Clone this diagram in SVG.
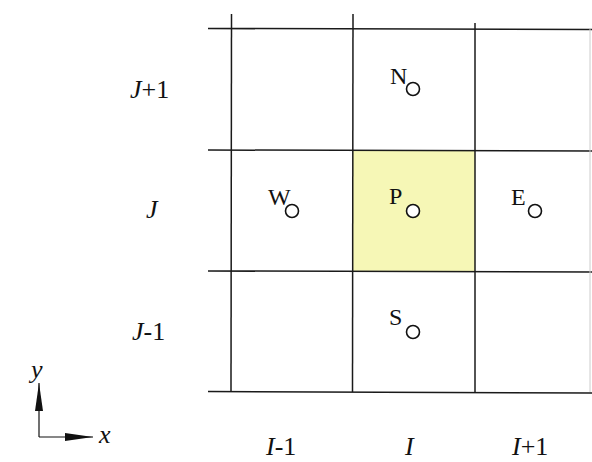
<svg xmlns="http://www.w3.org/2000/svg" width="592" height="462" viewBox="0 0 592 462">
<style>
.g{stroke:#1a1a1a;stroke-width:1.5;fill:none}
.t{font-family:"Liberation Serif",serif;font-size:24px;fill:#111}
.l{font-family:"Liberation Serif",serif;font-size:26px;fill:#111}
.i{font-style:italic}
.c{fill:#fff;stroke:#111;stroke-width:1.6}
</style>
<defs>
<marker id="ah" viewBox="0 0 28 10" refX="28" refY="5" markerWidth="28" markerHeight="10" markerUnits="userSpaceOnUse" orient="auto">
<path d="M0,1 L28,5 L0,9 Z" fill="#111"/>
</marker>
</defs>
<rect width="592" height="462" fill="#fff"/>
<g id="cellP"><rect x="353" y="150" width="122" height="121" fill="#f6f7b6"/></g>
<g id="grid">
<line class="g" x1="208" y1="28.5" x2="592" y2="29.5"/>
<line class="g" x1="208" y1="150" x2="592" y2="151"/>
<line class="g" x1="208" y1="271" x2="592" y2="272"/>
<line class="g" x1="208" y1="391.5" x2="592" y2="393"/>
<line class="g" x1="231.5" y1="14" x2="231" y2="392"/>
<line class="g" x1="353" y1="14" x2="352.5" y2="392"/>
<line class="g" x1="475" y1="23" x2="475" y2="393"/>
<line x1="590" y1="29" x2="590" y2="392" stroke="#ccc" stroke-width="1"/>
</g>
<g id="N"><text class="t" x="390" y="84">N</text><circle class="c" cx="413" cy="89" r="6.5"/></g>
<g id="W"><text class="t" x="268" y="205">W</text><circle class="c" cx="292" cy="211" r="6.5"/></g>
<g id="P"><text class="t" x="389" y="204">P</text><circle class="c" cx="413" cy="211" r="6.5"/></g>
<g id="E"><text class="t" x="511" y="205">E</text><circle class="c" cx="535" cy="211" r="6.5"/></g>
<g id="S"><text class="t" x="389" y="325">S</text><circle class="c" cx="413" cy="332" r="6.5"/></g>
<g id="rowlabels">
<text class="l" x="130" y="98"><tspan class="i">J</tspan>+1</text>
<text class="l i" x="146" y="218">J</text>
<text class="l" x="132" y="340"><tspan class="i">J</tspan>-1</text>
</g>
<g id="collabels">
<text class="l" x="266" y="455"><tspan class="i">I</tspan>-1</text>
<text class="l i" x="405" y="455">I</text>
<text class="l" x="512" y="455"><tspan class="i">I</tspan>+1</text>
</g>
<g id="axes">
<line x1="39" y1="437" x2="39" y2="383" stroke="#111" stroke-width="1.2" marker-end="url(#ah)"/>
<line x1="39" y1="437" x2="93" y2="437" stroke="#111" stroke-width="1.2" marker-end="url(#ah)"/>
<text class="l i" x="31" y="378">y</text>
<text class="l i" x="99" y="443">x</text>
</g>
</svg>
